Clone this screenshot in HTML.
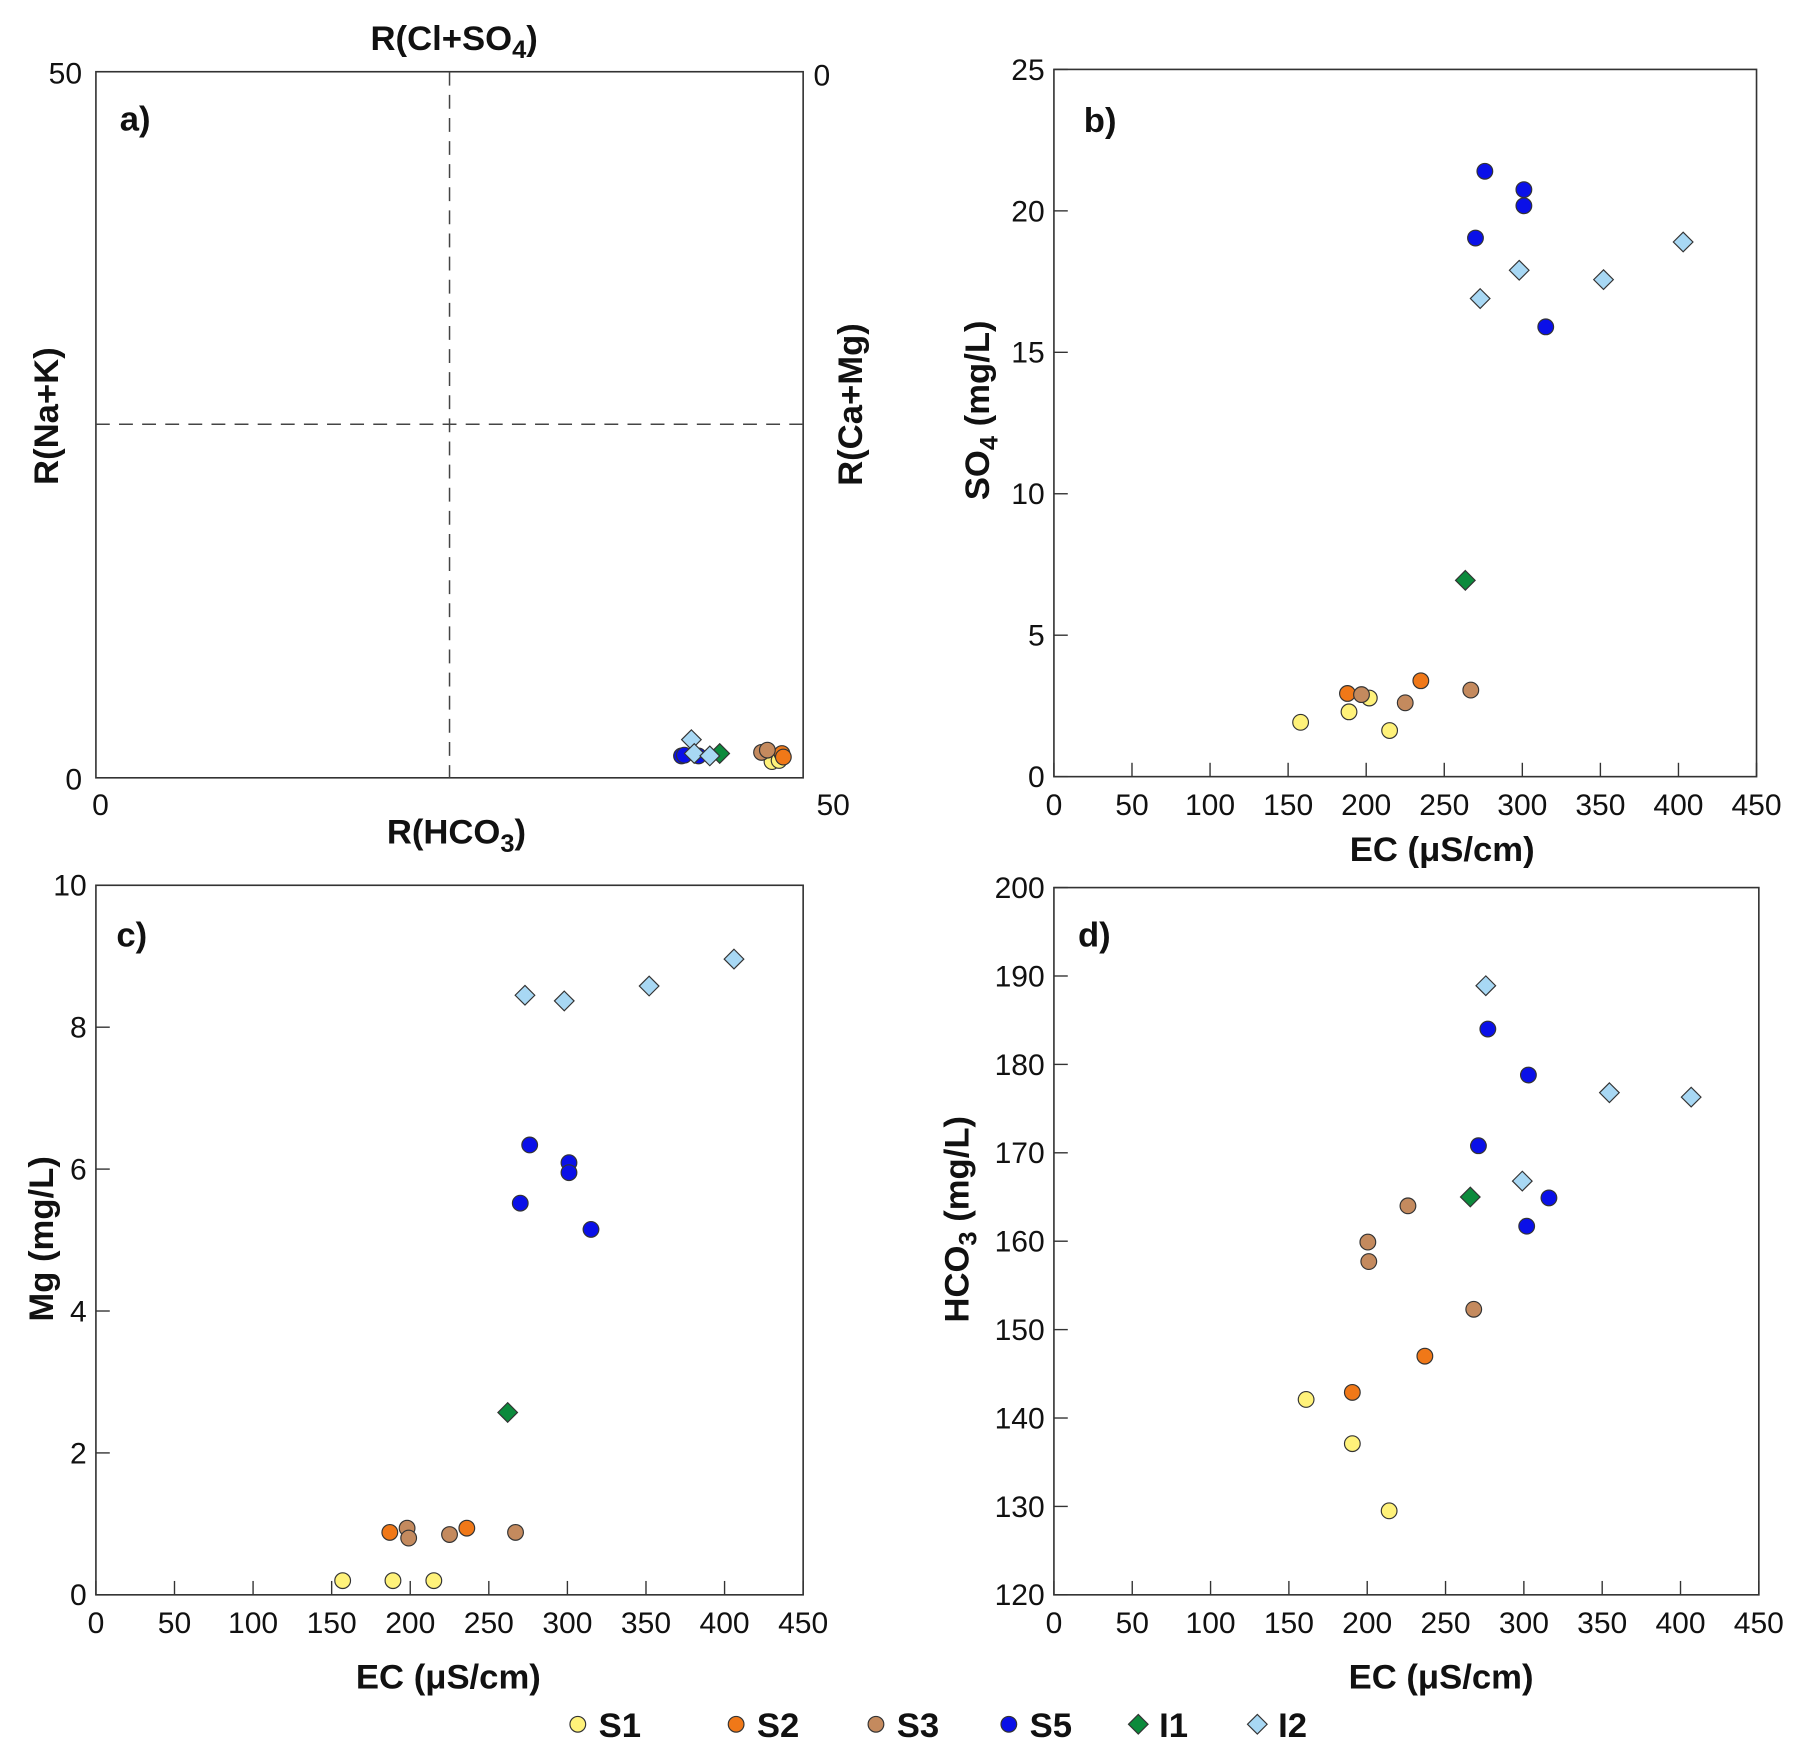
<!DOCTYPE html>
<html><head><meta charset="utf-8"><style>
html,body{margin:0;padding:0;background:#fff}
svg{display:block;font-family:"Liberation Sans",Arial,sans-serif}
.tk{font-size:26px;fill:#111}
.tt{font-size:30px;font-weight:bold;fill:#111}
</style></head><body>
<svg id="chart" width="1812" height="1759" viewBox="0 0 1568 1522">
<g id="root"></g>
</svg>
<script>
// Panel a data (Gibbs-like ratio plot)
const aS1x=[47.8,48.3], aS1y=[1.15,1.23];
const aS2x=[48.5,48.6], aS2y=[1.72,1.47];
const aS3x=[47.06,47.47], aS3y=[1.8,1.96];
const aS5x=[41.4,41.6,42.6], aS5y=[1.55,1.6,1.55];
const aI1x=[44.1], aI1y=[1.72];
const aI2x=[42.1,42.3,43.4], aI2y=[2.7,1.72,1.55];
// Panel b: SO4 vs EC
const bS1x=[158,189,202,215], bS1y=[1.92,2.29,2.78,1.63];
const bS2x=[188,235], bS2y=[2.94,3.39];
const bS3x=[197,225,267], bS3y=[2.9,2.61,3.06];
const bS5x=[276,301,301,270,315], bS5y=[21.4,20.75,20.18,19.04,15.9];
const bI1x=[263.5], bI1y=[6.94];
const bI2x=[273,298,352,403], bI2y=[16.9,17.9,17.57,18.9];
// Panel c: Mg vs EC
const cS1x=[157,189,215], cS1y=[0.2,0.2,0.2];
const cS2x=[187,236], cS2y=[0.88,0.94];
const cS3x=[198,199,225,267], cS3y=[0.94,0.8,0.85,0.88];
const cS5x=[276,301,301,270,315], cS5y=[6.34,6.09,5.95,5.52,5.15];
const cI1x=[262], cI1y=[2.57];
const cI2x=[273,298,352,406], cI2y=[8.45,8.37,8.58,8.96];
// Panel d: HCO3 vs EC
const dS1x=[161,190.5,214], dS1y=[142.1,137.1,129.5];
const dS2x=[236.8,190.5], dS2y=[147,142.9];
const dS3x=[226,200.4,201,268], dS3y=[164,159.9,157.7,152.3];
const dS5x=[277,302.9,271,316,301.8], dS5y=[184,178.8,170.8,164.9,161.7];
const dI1x=[265.8], dI1y=[165];
const dI2x=[275.7,354.6,406.8,299], dI2y=[188.9,176.8,176.3,166.8];
const ecTicks=[0,50,100,150,200,250,300,350,400,450];
const bTicks=[0,5,10,15,20,25];
const cTicks=[0,2,4,6,8,10];
const dTicks=[120,130,140,150,160,170,180,190,200];

const NS="http://www.w3.org/2000/svg";
const root=document.getElementById('root');
function mk(tag,attrs,parent){const e=document.createElementNS(NS,tag);for(const k in attrs)e.setAttribute(k,attrs[k]);(parent||root).appendChild(e);return e;}
function txt(x,y,s,cls,anchor,parent){const t=mk('text',{x:x,y:y,class:cls,'text-anchor':anchor||'middle'},parent);t.innerHTML=s;return t;}
const styles={S1:['circle','#fff27a'],S2:['circle','#f07818'],S3:['circle','#c48a5e'],S5:['circle','#0a10e8'],I1:['diamond','#0c8a3c'],I2:['diamond','#a8d8f4']};
function marker(g,x,y,ser){
  const [shape,col]=styles[ser];let e;
  if(shape==='circle'){e=mk('circle',{cx:x,cy:y,r:6.8,fill:col,stroke:'#333','stroke-width':1},g);}
  else{const s=8.5;e=mk('polygon',{points:`${x},${y-s} ${x+s},${y} ${x},${y+s} ${x-s},${y}`,fill:col,stroke:'#333','stroke-width':1},g);}
  
  
}
function panel(name,L,R,T,B,xmin,xmax,ymin,ymax,series){
  const g=mk('g',{});
  
  
  const sx=v=>L+(v-xmin)/(xmax-xmin)*(R-L);
  const sy=v=>B-(v-ymin)/(ymax-ymin)*(B-T);
  mk('rect',{x:L,y:T,width:R-L,height:B-T,fill:'none',stroke:'#333','stroke-width':1.4},g);
  for(const [ser,xs,ys] of series){for(let i=0;i<xs.length;i++)marker(g,sx(xs[i]),sy(ys[i]),ser);}
  return {g,sx,sy};
}
function ticksX(p,vals,B,len){for(const v of vals){const x=p.sx(v);mk('line',{x1:x,y1:B,x2:x,y2:B-len,stroke:'#333','stroke-width':1.2},p.g);const t=txt(x,B+33,String(v),'tk','middle',p.g);}}
function ticksY(p,vals,L,len){for(const v of vals){const y=p.sy(v);mk('line',{x1:L,y1:y,x2:L+len,y2:y,stroke:'#333','stroke-width':1.2},p.g);const t=txt(L-8,y+9,String(v),'tk','end',p.g);}}

// Panel a
const pa=panel('panel-a',83,695,62,673,0,50,0,50,[['S1',aS1x,aS1y],['S2',aS2x,aS2y],['S3',aS3x,aS3y],['S5',aS5x,aS5y],['I1',aI1x,aI1y],['I2',aI2x,aI2y]]);
mk('line',{x1:389,y1:62,x2:389,y2:673,stroke:'#444','stroke-width':1.3,'stroke-dasharray':'12,8'},pa.g);
mk('line',{x1:83,y1:367,x2:695,y2:367,stroke:'#444','stroke-width':1.3,'stroke-dasharray':'12,8'},pa.g);
txt(71,72,'50','tk','end',pa.g);txt(71,683,'0','tk','end',pa.g);
txt(87,705,'0','tk','middle',pa.g);txt(721,705,'50','tk','middle',pa.g);
txt(704,74,'0','tk','start',pa.g);
txt(117,113,'a)','tt','middle',pa.g);
txt(393,43,'R(Cl+SO<tspan font-size="22" dy="7">4</tspan><tspan dy="-7">)</tspan>','tt','middle',pa.g);
txt(395,730,'R(HCO<tspan font-size="22" dy="7">3</tspan><tspan dy="-7">)</tspan>','tt','middle',pa.g);
txt(0,0,'R(Na+K)','tt','middle',pa.g).setAttribute('transform','translate(50,360) rotate(-90)');
txt(0,0,'R(Ca+Mg)','tt','middle',pa.g).setAttribute('transform','translate(746,350) rotate(-90)');

// Panel b
const pb=panel('panel-b',912,1520,60,672,0,450,0,25,[['S1',bS1x,bS1y],['S2',bS2x,bS2y],['S3',bS3x,bS3y],['S5',bS5x,bS5y],['I1',bI1x,bI1y],['I2',bI2x,bI2y]]);
ticksX(pb,ecTicks,672,12);ticksY(pb,bTicks,912,12);
txt(952,114,'b)','tt','middle',pb.g);
txt(1248,745,'EC (μS/cm)','tt','middle',pb.g);
txt(0,0,'SO<tspan font-size="22" dy="7">4</tspan><tspan dy="-7"> (mg/L)</tspan>','tt','middle',pb.g).setAttribute('transform','translate(856,355) rotate(-90)');

// Panel c
const pc=panel('panel-c',83,695,766,1380,0,450,0,10,[['S1',cS1x,cS1y],['S2',cS2x,cS2y],['S3',cS3x,cS3y],['S5',cS5x,cS5y],['I1',cI1x,cI1y],['I2',cI2x,cI2y]]);
ticksX(pc,ecTicks,1380,12);ticksY(pc,cTicks,83,12);
txt(114,819,'c)','tt','middle',pc.g);
txt(388,1461,'EC (μS/cm)','tt','middle',pc.g);
txt(0,0,'Mg (mg/L)','tt','middle',pc.g).setAttribute('transform','translate(46,1072) rotate(-90)');

// Panel d
const pd=panel('panel-d',912,1522,768,1380,0,450,120,200,[['S1',dS1x,dS1y],['S2',dS2x,dS2y],['S3',dS3x,dS3y],['S5',dS5x,dS5y],['I1',dI1x,dI1y],['I2',dI2x,dI2y]]);
ticksX(pd,ecTicks,1380,12);ticksY(pd,dTicks,912,12);
txt(947,819,'d)','tt','middle',pd.g);
txt(1247,1461,'EC (μS/cm)','tt','middle',pd.g);
txt(0,0,'HCO<tspan font-size="22" dy="7">3</tspan><tspan dy="-7"> (mg/L)</tspan>','tt','middle',pd.g).setAttribute('transform','translate(838,1055) rotate(-90)');

// Legend
const legNames=['S1','S2','S3','S5','I1','I2'];
const legX=[500,637,758,873,985,1088];
const lg=mk('g',{});


for(let i=0;i<legNames.length;i++){
  const e=mk('g',{},lg);
  
  
  marker(e,legX[i],1492,legNames[i]);
  txt(legX[i]+18,1503,legNames[i],'tt','start',e);
}
</script>
</body></html>
